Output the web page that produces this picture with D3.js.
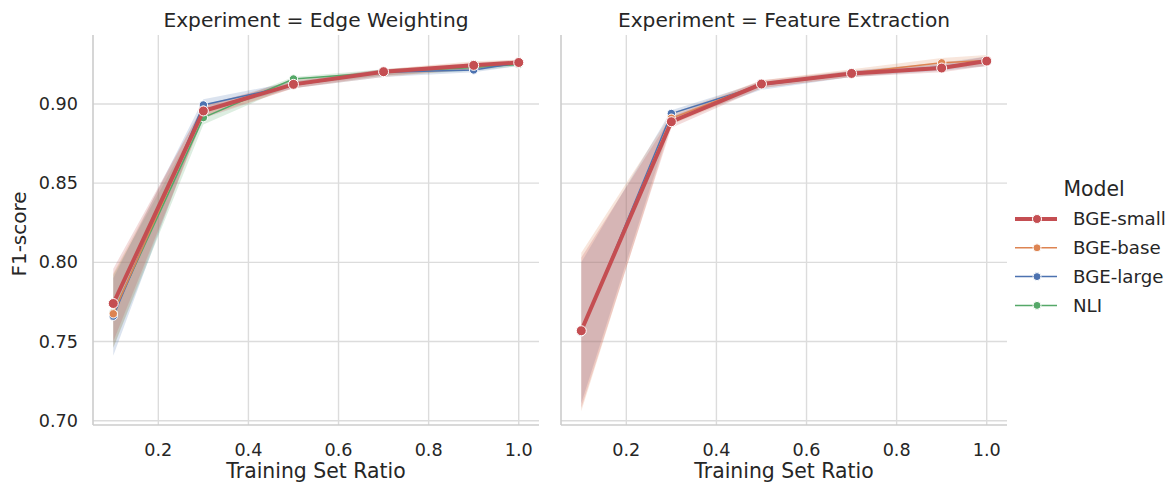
<!DOCTYPE html>
<html>
<head>
<meta charset="utf-8">
<script src="https://cdn.jsdelivr.net/npm/d3@7"></script>
<style>
  body { margin: 0; background: #fff; }
  text { font-family: "DejaVu Sans", sans-serif; fill: #262626; }
</style>
</head>
<body>
<div id="wrapper"></div>
<script>
// data
const ratios = [0.1, 0.3, 0.5, 0.7, 0.9, 1.0]
const experiments = ["Edge Weighting", "Feature Extraction"]
const models = ["BGE-small", "BGE-base", "BGE-large", "NLI"]
const colors = ["#c44e52", "#dd8452", "#4c72b0", "#55a868"]
const xTicks = [0.2, 0.4, 0.6, 0.8, 1.0]
const yTicks = [0.70, 0.75, 0.80, 0.85, 0.90]

// Edge Weighting: mean, lower, upper per model
const edgeSmall = [0.774, 0.8956, 0.9124, 0.9204, 0.9244, 0.9262]
const edgeSmallLo = [0.750, 0.891, 0.910, 0.918, 0.922, 0.925]
const edgeSmallHi = [0.796, 0.899, 0.915, 0.922, 0.926, 0.928]
const edgeBase = [0.7675, 0.896, 0.912, 0.920, 0.925, 0.926]
const edgeBaseLo = [0.746, 0.892, 0.910, 0.917, 0.922, 0.925]
const edgeBaseHi = [0.793, 0.899, 0.914, 0.922, 0.927, 0.928]
const edgeLarge = [0.766, 0.8994, 0.912, 0.920, 0.9215, 0.926]
const edgeLargeLo = [0.741, 0.895, 0.910, 0.917, 0.920, 0.924]
const edgeLargeHi = [0.790, 0.903, 0.914, 0.922, 0.924, 0.927]
const edgeNli = [0.768, 0.8914, 0.9158, 0.920, 0.923, 0.925]
const edgeNliLo = [0.746, 0.887, 0.912, 0.918, 0.921, 0.924]
const edgeNliHi = [0.792, 0.895, 0.917, 0.922, 0.925, 0.927]

// Feature Extraction (no NLI run)
const featSmall = [0.7568, 0.8888, 0.9126, 0.9193, 0.9227, 0.9271]
const featSmallLo = [0.708, 0.885, 0.910, 0.917, 0.920, 0.924]
const featSmallHi = [0.803, 0.892, 0.915, 0.921, 0.925, 0.930]
const featBase = [0.757, 0.891, 0.913, 0.9195, 0.926, 0.9275]
const featBaseLo = [0.706, 0.887, 0.910, 0.917, 0.922, 0.924]
const featBaseHi = [0.806, 0.894, 0.915, 0.922, 0.929, 0.931]
const featLarge = [0.756, 0.894, 0.912, 0.919, 0.9235, 0.927]
const featLargeLo = [0.711, 0.889, 0.909, 0.917, 0.921, 0.924]
const featLargeHi = [0.800, 0.896, 0.914, 0.921, 0.926, 0.930]

const series = {
  "Edge Weighting": [
    [edgeSmall, edgeSmallLo, edgeSmallHi],
    [edgeBase, edgeBaseLo, edgeBaseHi],
    [edgeLarge, edgeLargeLo, edgeLargeHi],
    [edgeNli, edgeNliLo, edgeNliHi],
  ],
  "Feature Extraction": [
    [featSmall, featSmallLo, featSmallHi],
    [featBase, featBaseLo, featBaseHi],
    [featLarge, featLargeLo, featLargeHi],
    null,
  ],
}

const width = 1169
const height = 485
const panelW = 446
const panelTop = 35
const panelBottom = 425
const panelLefts = [93, 561]

const svg = d3.select("#wrapper")
  .append("svg")
  .attr("width", width)
  .attr("height", height)

const yScale = d3.scaleLinear()
  .domain([0.69727, 0.94357])
  .range([panelBottom, panelTop])

experiments.forEach((exp, i) => {
  const x0 = panelLefts[i]
  const xScale = d3.scaleLinear()
    .domain([0.055, 1.045])
    .range([x0, x0 + panelW])

  const g = svg.append("g")

  // grid
  g.selectAll(".vgrid").data(xTicks).join("line")
    .attr("x1", d => xScale(d)).attr("x2", d => xScale(d))
    .attr("y1", panelTop).attr("y2", panelBottom)
    .attr("stroke", "#dcdcdc").attr("stroke-width", 1.4)
  g.selectAll(".hgrid").data(yTicks).join("line")
    .attr("x1", x0).attr("x2", x0 + panelW)
    .attr("y1", d => yScale(d)).attr("y2", d => yScale(d))
    .attr("stroke", "#dcdcdc").attr("stroke-width", 1.4)

  // spines
  g.append("line")
    .attr("x1", x0).attr("x2", x0)
    .attr("y1", panelTop).attr("y2", panelBottom)
    .attr("stroke", "#cccccc").attr("stroke-width", 1.6)
  g.append("line")
    .attr("x1", x0).attr("x2", x0 + panelW)
    .attr("y1", panelBottom).attr("y2", panelBottom)
    .attr("stroke", "#cccccc").attr("stroke-width", 1.6)

  // tick labels
  g.selectAll(".xt").data(xTicks).join("text")
    .attr("x", d => xScale(d))
    .attr("y", 456)
    .attr("text-anchor", "middle")
    .attr("font-size", 17.6)
    .text(d => d3.format(".1f")(d))
  if (i === 0) {
    g.selectAll(".yt").data(yTicks).join("text")
      .attr("x", 78)
      .attr("y", d => yScale(d))
      .attr("dy", "0.35em")
      .attr("text-anchor", "end")
      .attr("font-size", 17.6)
      .text(d => d3.format(".2f")(d))
  }

  g.append("text")
    .attr("x", x0 + panelW / 2)
    .attr("y", 478)
    .attr("text-anchor", "middle")
    .attr("font-size", 20.4)
    .text("Training Set Ratio")

  g.append("text")
    .attr("x", x0 + panelW / 2)
    .attr("y", 27)
    .attr("text-anchor", "middle")
    .attr("font-size", 20.2)
    .text(`Experiment = ${exp}`)

  const area = d3.area()
    .x((d, k) => xScale(ratios[k]))
    .y0(d => yScale(d[0]))
    .y1(d => yScale(d[1]))
  const line = d3.line()
    .x((d, k) => xScale(ratios[k]))
    .y(d => yScale(d))

  // draw bands then lines; small last (on top)
  const order = [3, 2, 1, 0].filter(m => series[exp][m])
  order.forEach(m => {
    const [mean, lo, hi] = series[exp][m]
    g.append("path")
      .datum(lo.map((v, k) => [v, hi[k]]))
      .attr("d", area)
      .attr("fill", colors[m])
      .attr("fill-opacity", 0.2)
  })
  order.forEach(m => {
    const [mean] = series[exp][m]
    g.append("path")
      .datum(mean)
      .attr("d", line)
      .attr("fill", "none")
      .attr("stroke", colors[m])
      .attr("stroke-width", m === 0 ? 4 : 1.5)
    g.selectAll(null).data(mean).join("circle")
      .attr("cx", (d, k) => xScale(ratios[k]))
      .attr("cy", d => yScale(d))
      .attr("r", m === 0 ? 5 : 4.2)
      .attr("fill", colors[m])
      .attr("stroke", "#fff")
      .attr("stroke-width", 1)
  })
})

// y label
svg.append("text")
  .attr("transform", `translate(26, 234) rotate(-90)`)
  .attr("text-anchor", "middle")
  .attr("font-size", 20)
  .text("F1-score")

// legend
const legend = svg.append("g")
legend.append("text")
  .attr("x", 1094).attr("y", 196)
  .attr("text-anchor", "middle")
  .attr("font-size", 20.4)
  .text("Model")
models.forEach((name, m) => {
  const y = 219 + m * 28.8
  legend.append("line")
    .attr("x1", 1015).attr("x2", 1057)
    .attr("y1", y).attr("y2", y)
    .attr("stroke", colors[m])
    .attr("stroke-width", m === 0 ? 4 : 1.5)
  legend.append("circle")
    .attr("cx", 1037).attr("cy", y)
    .attr("r", m === 0 ? 4.5 : 4)
    .attr("fill", colors[m])
    .attr("stroke", "#fff")
    .attr("stroke-width", 1)
  legend.append("text")
    .attr("x", 1073).attr("y", y)
    .attr("dy", "0.35em")
    .attr("font-size", 18.2)
    .text(name)
})
</script>
</body>
</html>
